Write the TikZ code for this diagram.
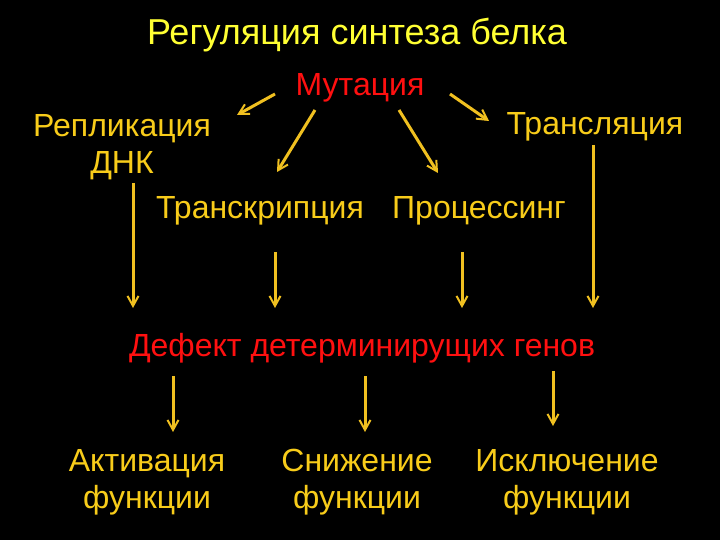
\documentclass[tikz,border=0pt]{standalone}
\usepackage{fontspec}
\setmainfont{Liberation Sans}
\usetikzlibrary{arrows.meta}
\definecolor{ttl}{HTML}{FFFF33}
\definecolor{gold}{HTML}{F8CC1A}
\definecolor{arr}{HTML}{F0C020}
\definecolor{redt}{HTML}{FF1010}
\begin{document}
\begin{tikzpicture}[x=1pt,y=-1pt,
  lbl/.style={font=\fontsize{32}{37}\selectfont, text=gold, align=center, inner sep=0pt},
  rlbl/.style={lbl, text=redt},
  arw/.style={draw=arr, line width=3pt, -{Straight Barb[length=10pt,width=11pt,line width=2pt]}}]
\fill[black] (0,0) rectangle (720,540);
\useasboundingbox (0,0) rectangle (720,540);
\node[lbl, text=ttl, font=\fontsize{36}{40}\selectfont] (title) at (357,35) {Регуляция синтеза белка};
\node[rlbl] (mut) at (360,88) {Мутация};
\node[lbl] (rep) at (122,147) {Репликация\\ДНК};
\node[lbl] (trl) at (595,127) {Трансляция};
\node[lbl] (trc) at (260,211) {Транскрипция};
\node[lbl] (proc) at (479,211) {Процессинг};
\node[rlbl] (def) at (362,348) {Дефект детерминирущих генов};
\node[lbl] (act) at (147,482) {Активация\\функции};
\node[lbl] (sn) at (357,482) {Снижение\\функции};
\node[lbl] (isk) at (567,482) {Исключение\\функции};
% arrows
\coordinate (a1s) at (275,94); \coordinate (a1e) at (237,115);
\coordinate (a2s) at (315,110); \coordinate (a2e) at (277,172);
\coordinate (a3s) at (399,110); \coordinate (a3e) at (438,173);
\coordinate (a4s) at (450,94); \coordinate (a4e) at (489,121);
\coordinate (a5s) at (133,183); \coordinate (a5e) at (133,308);
\coordinate (a6s) at (275,252); \coordinate (a6e) at (275,308);
\coordinate (a7s) at (462,252); \coordinate (a7e) at (462,308);
\coordinate (a8s) at (593,145); \coordinate (a8e) at (593,308);
\coordinate (a9s) at (173,376); \coordinate (a9e) at (173,432);
\coordinate (a10s) at (365,376); \coordinate (a10e) at (365,432);
\coordinate (a11s) at (553,371); \coordinate (a11e) at (553,426);
\foreach \i in {1,...,11} {\draw[arw] (a\i s) -- (a\i e);}
\end{tikzpicture}
\end{document}
